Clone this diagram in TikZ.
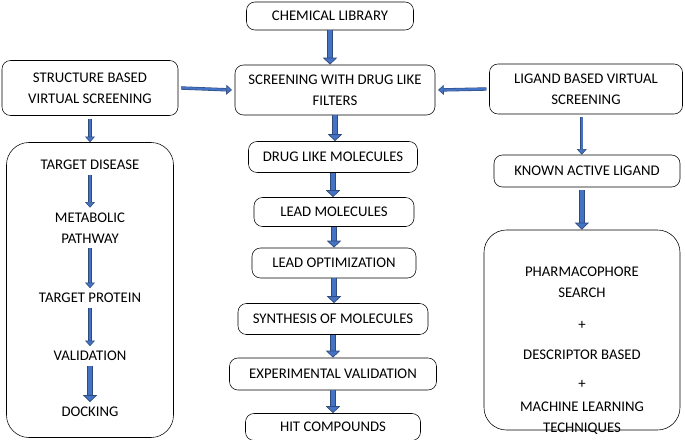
\documentclass[tikz,border=0pt]{standalone}
\usepackage{fontspec}
\setmainfont{Carlito}
\usetikzlibrary{arrows.meta}
\definecolor{arrowBlue}{HTML}{4472C4}
\definecolor{arrowEdge}{HTML}{2F4B7C}
\tikzstyle{stepBox}=[draw, rounded corners=6pt, align=center, inner sep=2pt, font=\fontsize{10.5}{15}\selectfont]
\tikzstyle{stepText}=[align=center, font=\fontsize{10.5}{15}\selectfont]
\tikzstyle{blockArrow}=[draw=arrowEdge, double=arrowBlue, double distance=3pt, line width=0.5pt, -{Triangle[length=5pt, width=10pt, fill=arrowBlue]}]
\tikzstyle{thinArrow}=[draw=arrowEdge, double=arrowBlue, double distance=1.6pt, line width=0.4pt, -{Triangle[length=4pt, width=7pt, fill=arrowBlue]}]

\begin{document}
\begin{tikzpicture}[x=0.025cm, y=-0.025cm]
    \useasboundingbox (0,0) rectangle (685,440);
    % centre column
    \node[stepBox, minimum width=167*0.025cm, minimum height=28*0.025cm] (lib) at (330,16) {CHEMICAL LIBRARY};
    \node[stepBox, minimum width=200*0.025cm, minimum height=50*0.025cm] (scr) at (335,90) {SCREENING WITH DRUG LIKE\\FILTERS};
    \node[stepBox, minimum width=169*0.025cm, minimum height=31*0.025cm] (dlm) at (333,157) {DRUG LIKE MOLECULES};
    \node[stepBox, minimum width=160*0.025cm, minimum height=29*0.025cm] (lead) at (334,212) {LEAD MOLECULES};
    \node[stepBox, minimum width=164*0.025cm, minimum height=30*0.025cm] (opt) at (334,263) {LEAD OPTIMIZATION};
    \node[stepBox, minimum width=190*0.025cm, minimum height=31*0.025cm] (syn) at (333,319) {SYNTHESIS OF MOLECULES};
    \node[stepBox, minimum width=207*0.025cm, minimum height=32*0.025cm] (exp) at (333,374) {EXPERIMENTAL VALIDATION};
    \node[stepBox, minimum width=175*0.025cm, minimum height=27*0.025cm] (hit) at (333,427) {HIT COMPOUNDS};

    % structure based side
    \node[stepBox, minimum width=176*0.025cm, minimum height=55*0.025cm] (sbvs) at (90,88) {STRUCTURE BASED\\VIRTUAL SCREENING};
    \node[stepBox, rounded corners=16pt, minimum width=167*0.025cm, minimum height=295*0.025cm] (sbox) at (90,290) {};
    \node[stepText] (dis) at (90,165) {TARGET DISEASE};
    \node[stepText] (path) at (90,228) {METABOLIC\\PATHWAY};
    \node[stepText] (prot) at (90,298) {TARGET PROTEIN};
    \node[stepText] (val) at (90,356) {VALIDATION};
    \node[stepText] (dock) at (90,412) {DOCKING};

    % ligand based side
    \node[stepBox, minimum width=193*0.025cm, minimum height=50*0.025cm] (lbvs) at (586,89) {LIGAND BASED VIRTUAL\\SCREENING};
    \node[stepBox, minimum width=186*0.025cm, minimum height=32*0.025cm] (kal) at (587,171) {KNOWN ACTIVE LIGAND};
    \node[stepBox, rounded corners=16pt, minimum width=196*0.025cm, minimum height=200*0.025cm] (rbox) at (582,330) {};
    \node[stepText] (pharm) at (582,282) {PHARMACOPHORE\\SEARCH};
    \node[stepText] (p1) at (582,325) {+};
    \node[stepText] (desc) at (582,355) {DESCRIPTOR BASED};
    \node[stepText] (p2) at (582,384) {+};
    \node[stepText] (ml) at (582,418) {MACHINE LEARNING\\TECHNIQUES};

    \draw[blockArrow] (lib.south) -- (lib.south |- scr.north);
    \draw[blockArrow] (scr.south) -- (scr.south |- dlm.north);
    \draw[blockArrow] (dlm.south) -- (dlm.south |- lead.north);
    \draw[blockArrow] (lead.south) -- (lead.south |- opt.north);
    \draw[blockArrow] (opt.south) -- (opt.south |- syn.north);
    \draw[blockArrow] (syn.south) -- (syn.south |- exp.north);
    \draw[blockArrow] (exp.south) -- (exp.south |- hit.north);
    \draw[thinArrow] ([xshift=2pt]sbvs.east) -- ([xshift=-2pt]scr.west);
    \draw[thinArrow] ([xshift=-2pt]lbvs.west) -- ([xshift=2pt]scr.east);
    \draw[thinArrow] ([yshift=-2pt]sbvs.south) -- (sbox.north);
    \draw[thinArrow] (dis) -- (path);
    \draw[thinArrow] (path) -- (prot);
    \draw[thinArrow] (prot) -- (val);
    \draw[blockArrow] (val) -- (dock);
    \draw[thinArrow] ([xshift=-3pt, yshift=-2pt]lbvs.south) -- ([xshift=-3pt]lbvs.south |- kal.north);
    \draw[blockArrow] ([xshift=-3pt, yshift=-2pt]lbvs.south |- kal.south) -- ([xshift=-3pt]lbvs.south |- rbox.north);
\end{tikzpicture}
\end{document}
